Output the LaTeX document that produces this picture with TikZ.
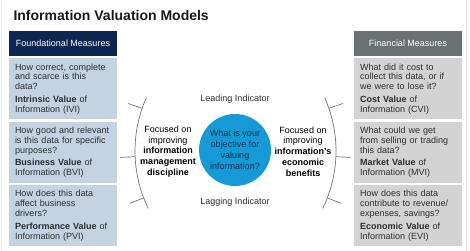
\documentclass[tikz,border=0pt]{standalone}
\usepackage{fontspec}
\setmainfont{Liberation Sans}
\usetikzlibrary{positioning}

\definecolor{navyhead}{rgb}{0.047,0.157,0.322}
\definecolor{bluebox}{rgb}{0.765,0.827,0.886}
\definecolor{grayhead}{rgb}{0.420,0.443,0.447}
\definecolor{graybox}{rgb}{0.827,0.827,0.827}
\definecolor{circleblue}{rgb}{0.086,0.604,0.839}
\definecolor{bodytext}{rgb}{0.180,0.180,0.180}
\definecolor{circletext}{rgb}{0.100,0.170,0.300}
\definecolor{framegray}{rgb}{0.900,0.900,0.900}
\definecolor{bracketgray}{rgb}{0.450,0.450,0.450}

\tikzset{
  headbox/.style={rectangle, minimum width=108pt, minimum height=25pt, inner sep=0pt,
    text=white, font=\fontsize{9}{10}\selectfont},
  measurebox/.style={rectangle, minimum width=108pt, minimum height=61pt, inner xsep=6pt,
    inner ysep=0pt, text width=96pt, align=left, text=bodytext, font=\fontsize{9}{9.8}\selectfont},
  focustext/.style={align=center, text=black, font=\fontsize{9}{10.8}\selectfont},
  indicator/.style={text=bodytext, font=\fontsize{9}{10}\selectfont},
  bracket/.style={draw=bracketgray, line width=0.7pt},
}

\begin{document}
\begin{tikzpicture}[x=1pt, y=-1pt]
\useasboundingbox (0,0) rectangle (470,251);
% page frame
\draw[framegray, line width=1pt] (1.5,0) -- (1.5,251);
\draw[framegray, line width=1pt] (466.5,0) -- (466.5,251);

\node[anchor=base west, text=black!90, font=\fontsize{14}{16}\selectfont\bfseries] (title) at (10,20.7) {Information Valuation Models};

% left column
\node[headbox, fill=navyhead] (foundhead) at (63,43.5) {Foundational Measures};
\node[measurebox, fill=bluebox, below=2pt of foundhead] (ivi)
  {How correct, complete\\and scarce is this\\data?\\[3pt]\textbf{Intrinsic Value} of\\Information (IVI)};
\node[measurebox, fill=bluebox, below=2pt of ivi] (bvi)
  {How good and relevant\\is this data for specific\\purposes?\\[3pt]\textbf{Business Value} of\\Information (BVI)};
\node[measurebox, fill=bluebox, below=2pt of bvi] (pvi)
  {How does this data\\affect business\\drivers?\\[3pt]\textbf{Performance Value} of\\Information (PVI)};

% right column
\node[headbox, fill=grayhead] (finhead) at (408,43.5) {Financial Measures};
\node[measurebox, fill=graybox, below=2pt of finhead] (cvi)
  {What did it cost to\\collect this data, or if\\we were to lose it?\\[3pt]\textbf{Cost Value} of\\Information (CVI)};
\node[measurebox, fill=graybox, below=2pt of cvi] (mvi)
  {What could we get\\from selling or trading\\this data?\\[3pt]\textbf{Market Value} of\\Information (MVI)};
\node[measurebox, fill=graybox, below=2pt of mvi] (evi)
  {How does this data\\contribute to revenue/\\expenses, savings?\\[3pt]\textbf{Economic Value} of\\Information (EVI)};

% centre
\node[circle, fill=circleblue, minimum size=72pt, inner sep=0pt, align=center, text=circletext,
  font=\fontsize{9}{11}\selectfont] (goal) at (235,150)
  {What is your\\objective for\\valuing\\information?};
\node[indicator] (lead) at (235,99) {Leading Indicator};
\node[indicator] (lag) at (235,202) {Lagging Indicator};
\node[focustext] (mgmt) at (168,151.5)
  {Focused on\\improving\\\textbf{information}\\\textbf{management}\\\textbf{discipline}};
\node[focustext] (econ) at (303,151.5)
  {Focused on\\improving\\\textbf{information's}\\\textbf{economic}\\\textbf{benefits}};

% brackets
\coordinate (lc) at (266,151);
\coordinate (rc) at (205,151);
\draw[bracket] ([shift={(204:131)}]lc) arc[start angle=204, end angle=154, radius=131];
\draw[bracket] ([shift={(-24:131)}]rc) arc[start angle=-24, end angle=26, radius=131];
\foreach \a in {199,177.5,159}
  \draw[bracket] ([shift={(\a:131)}]lc) -- ([shift={(\a:146)}]lc);
\foreach \a in {-19,2.5,21}
  \draw[bracket] ([shift={(\a:131)}]rc) -- ([shift={(\a:146)}]rc);
\end{tikzpicture}
\end{document}
